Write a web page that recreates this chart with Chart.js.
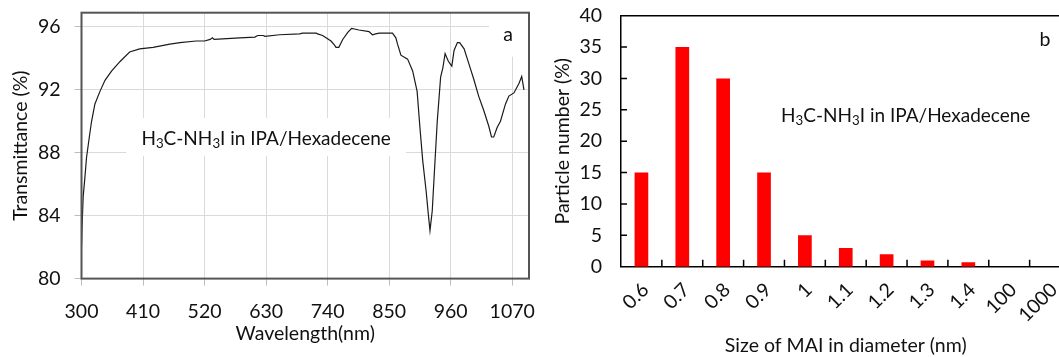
<!DOCTYPE html>
<html>
<head>
<meta charset="utf-8">
<script src="https://cdn.jsdelivr.net/npm/chart.js@4.4.1/dist/chart.umd.min.js"></script>
<style>
  html, body { margin: 0; padding: 0; background: #fff; overflow: hidden; width: 1059px; height: 357px; }
  #wrapA { position: absolute; left: 0; top: 0; width: 540px; height: 357px; }
  #wrapB { position: absolute; left: 540px; top: 0; width: 560px; height: 357px; }
</style>
</head>
<body>
<div id="wrapA"><canvas id="chartA" width="540" height="357"></canvas></div>
<div id="wrapB"><canvas id="chartB" width="560" height="357"></canvas></div>
<script>
// (a) transmission spectrum
const wavelength = [
  300, 301, 303, 306, 309, 314, 318, 324, 333, 342, 354, 369, 386, 404, 428, 458, 476,
  505, 520, 530, 534, 537, 560, 583, 610, 615, 625, 628, 654, 690, 695, 720, 722, 731,
  746, 752, 755, 760, 767, 776, 783, 790, 796, 814, 820, 826, 832, 844, 856, 862, 865,
  871, 883, 892, 900, 905, 910, 916, 920, 923, 927, 932, 936, 942, 946, 950, 956, 962,
  966, 972, 976, 984, 993, 1001, 1010, 1019, 1028, 1033, 1037, 1043, 1049, 1058, 1064,
  1073, 1082, 1087, 1091
];
const transmittance = [
  82.0, 83.3, 85.2, 86.4, 87.7, 89.0, 90.0, 91.1, 91.9, 92.6, 93.2, 93.8, 94.4, 94.6, 94.7, 94.9, 95.0,
  95.1, 95.1, 95.2, 95.3, 95.2, 95.25, 95.3, 95.35, 95.45, 95.45, 95.4, 95.5, 95.55, 95.6, 95.6, 95.55, 95.45,
  95.1, 94.85, 94.7, 94.7, 95.2, 95.65, 95.9, 95.85, 95.8, 95.7, 95.5, 95.55, 95.6, 95.6, 95.6, 95.3, 94.9,
  94.2, 93.95, 93.2, 91.9, 89.6, 87.5, 85.6, 84.1, 83.05, 84.3, 87.5, 90.0, 92.8, 93.4, 94.3, 93.8, 93.5,
  94.5, 95.0, 95.0, 94.6, 93.6, 92.7, 91.6, 90.7, 89.7, 89.0, 89.0, 89.6, 90.0, 91.1, 91.6,
  91.8, 92.4, 92.85, 92.0
];
const wavelengthTicks = [300, 410, 520, 630, 740, 850, 960, 1070];
const transmittanceTicks = [80, 84, 88, 92, 96];

// (b) size distribution
const sizeLabels = ['0.6', '0.7', '0.8', '0.9', '1', '1.1', '1.2', '1.3', '1.4', '100', '1000'];
const particleShare = [15, 35, 30, 15, 5, 3, 2, 1, 0.7, 0, 0];
const particleTicks = [0, 5, 10, 15, 20, 25, 30, 35, 40];

// compound name, with subscripted digits
const formulaParts = [
  { t: 'H', sub: false }, { t: '3', sub: true }, { t: 'C-NH', sub: false },
  { t: '3', sub: true }, { t: 'I in IPA/Hexadecene', sub: false }
];

const FONT = 'Lato';
const INK = '#111';
const AXIS_SIZE = 19.5;
const LABEL_SIZE = 19;
Chart.defaults.font.family = FONT;
Chart.defaults.color = INK;

function formulaWidth(ctx, size) {
  let w = 0;
  formulaParts.forEach(p => {
    ctx.font = `${p.sub ? size * 0.7 : size}px ${FONT}`;
    w += ctx.measureText(p.t).width;
  });
  return w;
}

function drawFormula(ctx, left, baseline, size) {
  let x = left;
  ctx.textAlign = 'left';
  ctx.textBaseline = 'alphabetic';
  ctx.fillStyle = INK;
  formulaParts.forEach(p => {
    ctx.font = `${p.sub ? size * 0.7 : size}px ${FONT}`;
    ctx.fillText(p.t, x, baseline + (p.sub ? size * 0.15 : 0));
    x += ctx.measureText(p.t).width;
  });
}

const frameA = {
  id: 'frameA',
  beforeDatasetsDraw(chart) {
    const { ctx, chartArea: ca, scales: { x, y } } = chart;
    ctx.save();
    ctx.fillStyle = '#fff';
    // white backing behind the compound label
    const w = formulaWidth(ctx, LABEL_SIZE);
    const cx = x.getPixelForValue(630);
    const base = y.getPixelForValue(88.5);
    ctx.fillRect(cx - w / 2 - 15, base - 27, w + 30, 38);
    // white backing behind the panel letter
    ctx.fillRect(ca.right - 40, ca.top, 40, 44);
    ctx.restore();
  },
  afterDatasetsDraw(chart) {
    const { ctx, chartArea: ca, scales: { x, y } } = chart;
    ctx.save();
    const w = formulaWidth(ctx, LABEL_SIZE);
    drawFormula(ctx, x.getPixelForValue(630) - w / 2, y.getPixelForValue(88.5), LABEL_SIZE);
    ctx.font = `19.5px ${FONT}`;
    ctx.textAlign = 'center';
    ctx.textBaseline = 'middle';
    ctx.fillStyle = INK;
    ctx.fillText('a', ca.right - 21, ca.top + 22);
    ctx.strokeStyle = '#555';
    ctx.lineWidth = 2;
    ctx.strokeRect(ca.left, ca.top, ca.right - ca.left, ca.bottom - ca.top);
    ctx.restore();
  }
};

new Chart(document.getElementById('chartA'), {
  type: 'line',
  data: {
    datasets: [{
      data: wavelength.map((w, i) => ({ x: w, y: transmittance[i] })),
      borderColor: '#1b1b1b',
      borderWidth: 1.2,
      pointRadius: 0,
      tension: 0,
      fill: false
    }]
  },
  options: {
    responsive: false,
    animation: false,
    devicePixelRatio: 1,
    layout: { padding: { left: 0, right: 11, top: 12.7, bottom: 0 } },
    plugins: { legend: { display: false }, tooltip: { enabled: false } },
    scales: {
      x: {
        type: 'linear', min: 300, max: 1100,
        afterBuildTicks: s => { s.ticks = wavelengthTicks.map(v => ({ value: v })); },
        afterFit: s => { s.height = 78.4; s.paddingLeft = 0; s.paddingRight = 0; },
        grid: { color: '#dadada', lineWidth: 1, tickLength: 7, tickColor: '#bdbdbd' },
        border: { display: false },
        ticks: { padding: 14.4, font: { size: AXIS_SIZE }, maxRotation: 0, autoSkip: false, callback: v => String(v) },
        title: { display: true, text: 'Wavelength(nm)', font: { size: AXIS_SIZE }, padding: { top: 0, bottom: 11.4 } }
      },
      y: {
        type: 'linear', min: 80, max: 96.9,
        afterBuildTicks: s => { s.ticks = transmittanceTicks.map(v => ({ value: v })); },
        afterFit: s => { s.width = 81.5; s.paddingTop = 0; s.paddingBottom = 0; },
        grid: { color: '#dadada', lineWidth: 1, tickLength: 7, tickColor: '#bdbdbd' },
        border: { display: false },
        ticks: { padding: 14, font: { size: AXIS_SIZE }, callback: v => String(v) },
        title: { display: true, text: 'Transmittance (%)', font: { size: AXIS_SIZE }, padding: { top: 9.4, bottom: 0 } }
      }
    }
  },
  plugins: [frameA]
});

const frameB = {
  id: 'frameB',
  afterDatasetsDraw(chart) {
    const { ctx, chartArea: ca, scales: { x, y } } = chart;
    ctx.save();
    ctx.strokeStyle = '#000';
    ctx.lineWidth = 1.5;
    ctx.beginPath();
    // top and right edges of the frame
    ctx.moveTo(ca.left, ca.top);
    ctx.lineTo(ca.right, ca.top);
    ctx.lineTo(ca.right, ca.bottom);
    // inward tick marks on the value axis
    particleTicks.forEach(v => {
      if (v === 0) return;
      const py = y.getPixelForValue(v);
      ctx.moveTo(ca.left, py);
      ctx.lineTo(ca.left + 6, py);
    });
    // inward tick marks between categories
    for (let i = 1; i <= sizeLabels.length; i++) {
      const a = x.getPixelForValue(i - 1);
      const b = i < sizeLabels.length ? x.getPixelForValue(i) : a + (a - x.getPixelForValue(i - 2));
      const px = (a + b) / 2;
      ctx.moveTo(px, ca.bottom);
      ctx.lineTo(px, ca.bottom - 7);
    }
    ctx.stroke();
    drawFormula(ctx, ca.left + 160, ca.top + 106, LABEL_SIZE);
    ctx.font = `19.5px ${FONT}`;
    ctx.textAlign = 'center';
    ctx.textBaseline = 'middle';
    ctx.fillStyle = INK;
    ctx.fillText('b', ca.left + 424, ca.top + 24);
    ctx.restore();
  }
};

new Chart(document.getElementById('chartB'), {
  type: 'bar',
  data: {
    labels: sizeLabels,
    datasets: [{
      data: particleShare,
      backgroundColor: '#ff0000',
      borderWidth: 0,
      barPercentage: 0.335,
      categoryPercentage: 1
    }]
  },
  options: {
    responsive: false,
    animation: false,
    devicePixelRatio: 1,
    layout: { padding: { left: 0, right: 29.5, top: 15.7, bottom: 0 } },
    plugins: { legend: { display: false }, tooltip: { enabled: false } },
    scales: {
      x: {
        afterFit: s => { s.height = 90.3; s.paddingLeft = 0; s.paddingRight = 0; },
        grid: { display: false, drawTicks: false },
        border: { display: true, color: '#000', width: 1.5 },
        ticks: { autoSkip: false, minRotation: 45, maxRotation: 45, padding: 11.5, labelOffset: 4, font: { size: AXIS_SIZE } },
        title: { display: true, text: 'Size of MAI in diameter (nm)', font: { size: AXIS_SIZE }, padding: { top: 0, bottom: -0.5 } }
      },
      y: {
        min: 0, max: 40,
        afterBuildTicks: s => { s.ticks = particleTicks.map(v => ({ value: v })); },
        afterFit: s => { s.width = 81; s.paddingTop = 0; s.paddingBottom = 0; },
        grid: { display: false, drawTicks: false },
        border: { display: true, color: '#000', width: 1.5 },
        ticks: { padding: 19, font: { size: AXIS_SIZE } },
        title: { display: true, text: 'Particle number (%)', font: { size: AXIS_SIZE }, padding: { top: 11.4, bottom: 0 } }
      }
    }
  },
  plugins: [frameB]
});
</script>
</body>
</html>
